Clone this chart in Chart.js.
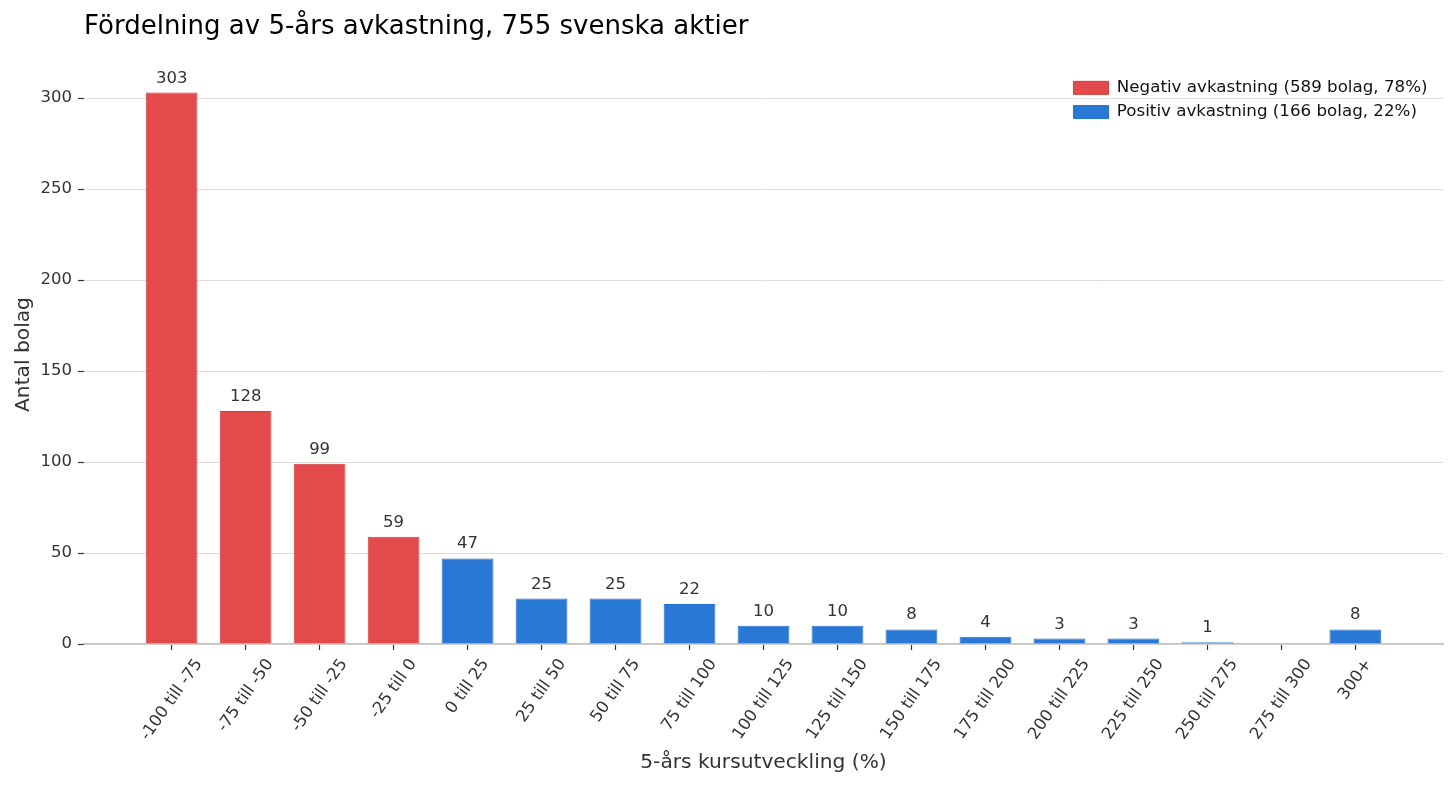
<!DOCTYPE html>
<html lang="sv">
<head>
	<meta charset="UTF-8"/>
	<title>Fördelning av 5-års avkastning</title>
	<script src="https://cdn.jsdelivr.net/npm/chart.js"></script>
	<style>
		html, body {
			margin: 0;
			padding: 0;
			background: #fff;
		}
		#wrap {
			width: 1456px;
			height: 788px;
		}
	</style>
</head>
<body>
<div id="wrap"><canvas id="myChart" width="1456" height="788"></canvas></div>

<script>
	const categories = [
		"-100 till -75", "-75 till -50", "-50 till -25", "-25 till 0",
		"0 till 25", "25 till 50", "50 till 75", "75 till 100",
		"100 till 125", "125 till 150", "150 till 175", "175 till 200",
		"200 till 225", "225 till 250", "250 till 275", "275 till 300", "300+"
	];
	const counts = [303, 128, 99, 59, 47, 25, 25, 22, 10, 10, 8, 4, 3, 3, 1, 0, 8];
	const negativeBins = 4;
	const yTicks = [0, 50, 100, 150, 200, 250, 300];

	const FONT = "'DejaVu Sans', sans-serif";
	const RED = "#e34a4b";
	const BLUE = "#2a78d6";

	const total = counts.reduce((a, b) => a + b, 0);
	const negSum = counts.slice(0, negativeBins).reduce((a, b) => a + b, 0);
	const posSum = total - negSum;

	const negData = counts.slice(0, negativeBins).map((v, i) => ({ x: i, y: v }));
	const posData = counts.slice(negativeBins).map((v, i) => ({ x: i + negativeBins, y: v }));

	// value above each bar
	const valueLabels = {
		id: "valueLabels",
		afterDatasetsDraw(chart) {
			const ctx = chart.ctx;
			ctx.save();
			ctx.font = "16.5px " + FONT;
			ctx.fillStyle = "#333";
			ctx.textAlign = "center";
			ctx.textBaseline = "alphabetic";
			chart.data.datasets.forEach((ds, di) => {
				chart.getDatasetMeta(di).data.forEach((bar, j) => {
					const v = ds.data[j].y;
					if (!v) return;
					ctx.fillText(String(v), bar.x, bar.y - 10);
				});
			});
			ctx.restore();
		}
	};

	// rotated category labels, centred under the tick
	const xLabels = {
		id: "xLabels",
		afterDraw(chart) {
			const ctx = chart.ctx;
			const sx = chart.scales.x;
			const rot = 55 * Math.PI / 180;
			const lh = 16.5 * 1.164;
			ctx.save();
			ctx.font = "16.5px " + FONT;
			ctx.fillStyle = "#333";
			ctx.textAlign = "center";
			ctx.textBaseline = "middle";
			sx.ticks.forEach((t, i) => {
				const text = categories[i];
				const w = ctx.measureText(text).width;
				const H = w * Math.sin(rot) + lh * Math.cos(rot);
				ctx.save();
				ctx.translate(sx.getPixelForValue(t.value), sx.top + 11.5 + H / 2);
				ctx.rotate(-rot);
				ctx.fillText(text, 0, 0);
				ctx.restore();
			});
			ctx.restore();
		}
	};

	// put the legend in the upper right corner of the plot
	const legendCorner = {
		id: "legendCorner",
		afterLayout(chart) {
			const lg = chart.legend;
			const area = chart.chartArea;
			lg.left = area.right - 377;
			lg.right = lg.left + lg.width;
			lg.top = area.top + 7;
			lg.bottom = area.bottom;
		}
	};

	const ctx = document.getElementById("myChart").getContext("2d");
	const myChart = new Chart(ctx, {
		type: "bar",
		data: {
			datasets: [
				{
					label: `Negativ avkastning (${negSum} bolag, ${Math.round(negSum / total * 100)}%)`,
					data: negData,
					backgroundColor: RED,
					borderColor: "#d63a3c",
					borderWidth: 1
				},
				{
					label: `Positiv avkastning (${posSum} bolag, ${Math.round(posSum / total * 100)}%)`,
					data: posData,
					backgroundColor: BLUE,
					borderColor: "#2470d0",
					borderWidth: 1
				}
			]
		},
		options: {
			responsive: false,
			animation: false,
			layout: { padding: { left: 0, right: 13, top: 0, bottom: 0 } },
			datasets: {
				bar: {
					grouped: false,
					categoryPercentage: 1,
					barPercentage: 0.7
				}
			},
			plugins: {
				tooltip: { enabled: false },
				title: {
					display: true,
					text: "Fördelning av 5-års avkastning, 755 svenska aktier",
					align: "start",
					fullSize: false,
					color: "#000",
					font: { family: FONT, size: 26, weight: "normal" },
					padding: { top: 12, bottom: 21.8 }
				},
				legend: {
					position: "chartArea",
					align: "start",
					labels: {
						boxWidth: 35,
						boxHeight: 13,
						padding: 7.5,
						color: "#111",
						font: { family: FONT, size: 16.7 }
					}
				}
			},
			scales: {
				x: {
					type: "linear",
					min: -1.185,
					max: 17.185,
					offset: false,
					afterBuildTicks: s => { s.ticks = categories.map((_, i) => ({ value: i })); },
					afterFit: s => { s.height = 144; },
					grid: {
						display: true,
						offset: false,
						drawOnChartArea: false,
						drawTicks: true,
						tickLength: 6,
						tickColor: "#333",
						tickWidth: 1.2
					},
					border: { display: true, color: "#c4c4bc", width: 1.5 },
					ticks: { display: false },
					title: {
						display: true,
						text: "5-års kursutveckling (%)",
						color: "#333",
						font: { family: FONT, size: 20.2 },
						padding: { top: 0, bottom: 13 }
					}
				},
				y: {
					min: 0,
					max: 303 * 1.05,
					afterBuildTicks: s => { s.ticks = yTicks.map(v => ({ value: v })); },
					afterFit: s => { s.width = 84; },
					grid: {
						color: "#dcdcd8",
						lineWidth: 1,
						drawTicks: true,
						tickLength: 6,
						tickColor: "#333",
						tickWidth: 1.2
					},
					border: { display: false },
					ticks: {
						color: "#333",
						padding: 6,
						font: { family: FONT, size: 16.5 }
					},
					title: {
						display: true,
						text: "Antal bolag",
						color: "#333",
						font: { family: FONT, size: 20.2 },
						padding: { top: 12, bottom: 0 }
					}
				}
			}
		},
		plugins: [valueLabels, xLabels, legendCorner]
	});
</script>
</body>
</html>
